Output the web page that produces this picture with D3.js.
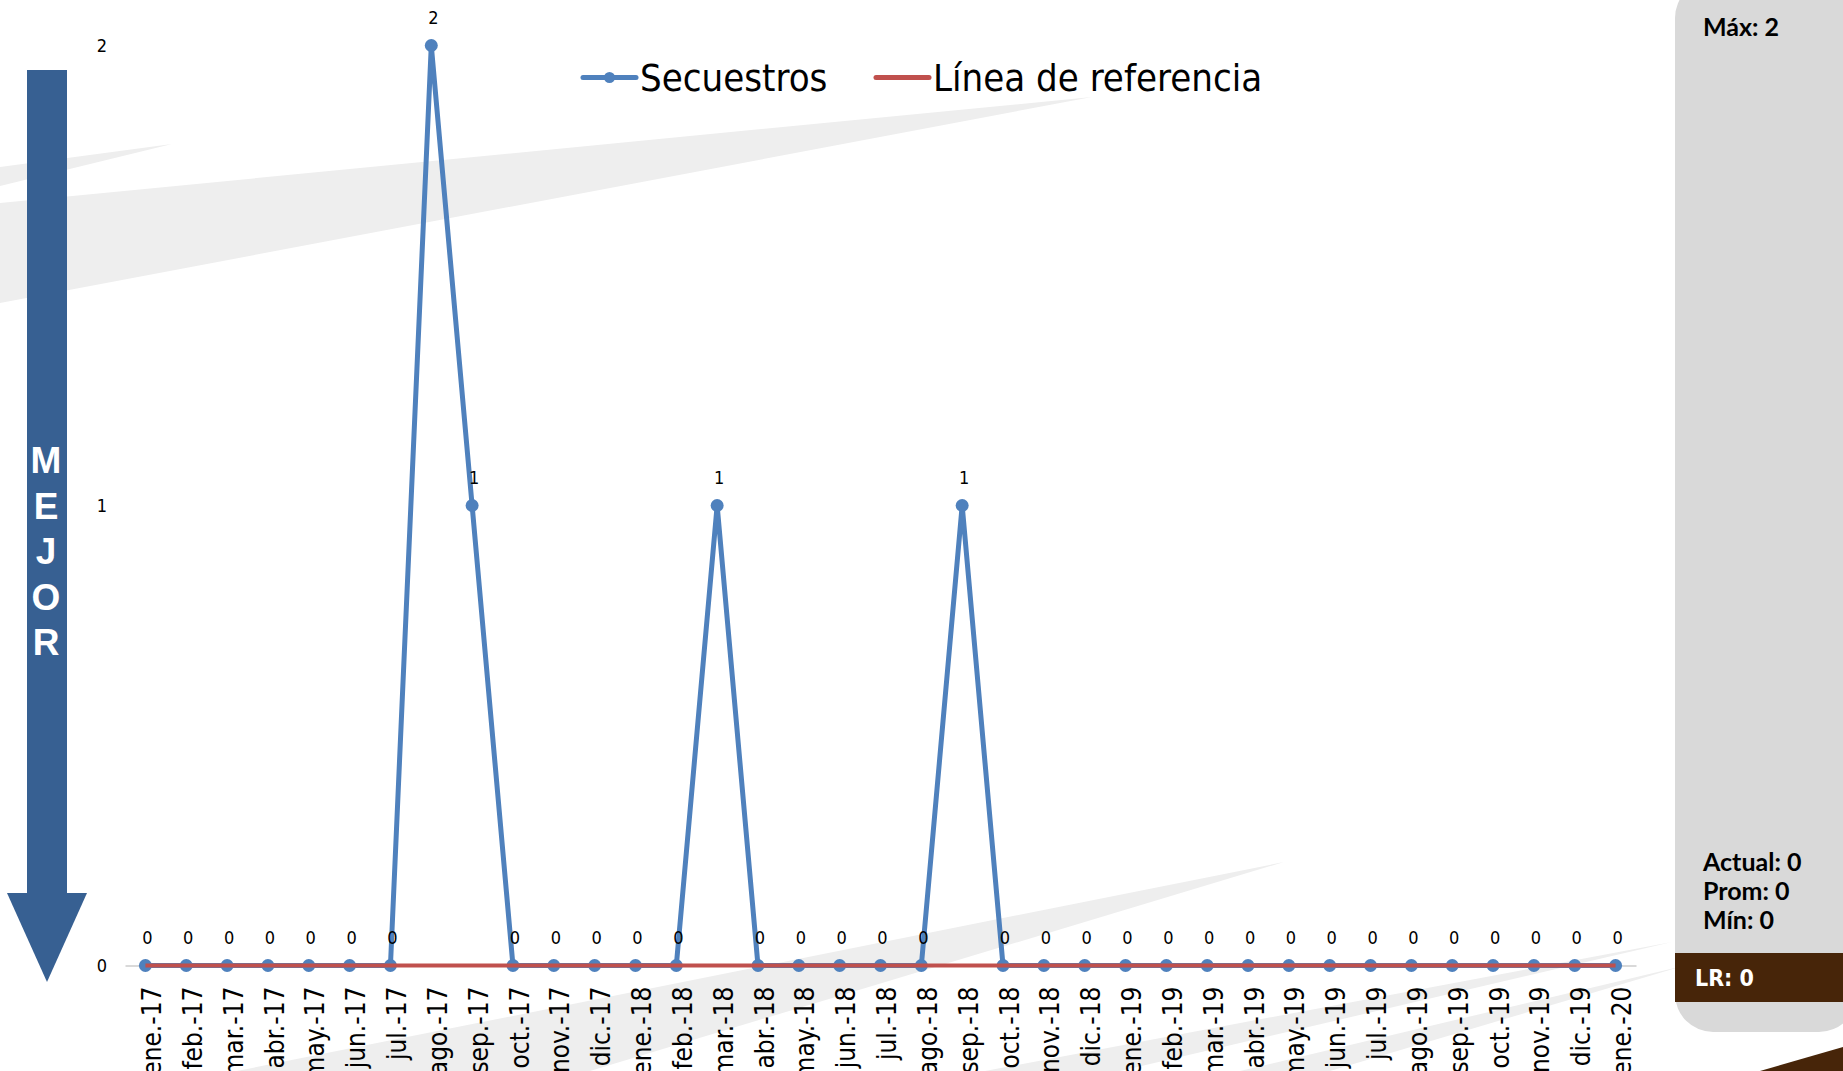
<!doctype html>
<html lang="es">
<head>
<meta charset="utf-8">
<script src="https://d3js.org/d3.v7.min.js"></script>
<title>Secuestros</title>
<style>
  body { margin: 0; background: #fff; }
  svg { display: block; }
  .narrow { font-family: "Liberation Sans Narrow", "DejaVu Sans Condensed", sans-serif; }
  .panel { font-family: Lato, "Noto Sans", sans-serif; font-weight: 700; }
</style>
</head>
<body>
<svg id="chart"></svg>
<script>
// months shown on the x axis
const months = [
  "ene.-17","feb.-17","mar.-17","abr.-17","may.-17","jun.-17","jul.-17","ago.-17","sep.-17","oct.-17","nov.-17","dic.-17",
  "ene.-18","feb.-18","mar.-18","abr.-18","may.-18","jun.-18","jul.-18","ago.-18","sep.-18","oct.-18","nov.-18","dic.-18",
  "ene.-19","feb.-19","mar.-19","abr.-19","may.-19","jun.-19","jul.-19","ago.-19","sep.-19","oct.-19","nov.-19","dic.-19",
  "ene.-20"
];
// Secuestros per month
const secuestros = [0,0,0,0,0,0,0,2,1,0,0,0, 0,0,1,0,0,0,0,0,1,0,0,0, 0,0,0,0,0,0,0,0,0,0,0,0, 0];
// reference line
const referencia = months.map(() => 0);
const yTicks = [0, 1, 2];
const legendNames = ["Secuestros", "Línea de referencia"];
const statsTop = ["Máx: 2"];
const statsBottom = ["Actual: 0", "Prom: 0", "Mín: 0"];
const lrText = "LR: 0";
const arrowWord = ["M", "E", "J", "O", "R"];

const width = 1843, height = 1071;
const blue = "#4f81bd", red = "#c0504d";

const svg = d3.select("#chart").attr("width", width).attr("height", height);

// background swooshes
const bg = svg.append("g").attr("fill", "#eeeeee");
[
  [[0,203],[1092,97],[0,303]],
  [[0,167],[172,144],[0,186]],
  [[237,1071],[1284,862],[590,1071]],
  [[985,1071],[1672,942],[1120,1071]],
  [[1240,1071],[1683,966],[1330,1071]]
].forEach(p => bg.append("polygon").attr("points", p.map(d => d.join(",")).join(" ")));

// right panel
svg.append("rect").attr("x", 1675).attr("y", -20).attr("width", 182).attr("height", 1052)
  .attr("rx", 38).attr("fill", "#d9d9d9");
svg.append("rect").attr("x", 1675).attr("y", 953).attr("width", 170).attr("height", 49).attr("fill", "#472509");
svg.append("polygon").attr("points", "1760,1071 1843,1047 1843,1071").attr("fill", "#472509");

const panel = svg.append("g").attr("class", "panel").attr("font-size", 25);
panel.selectAll("text.top").data(statsTop).join("text").attr("class", "top")
  .attr("x", 1703).attr("y", (d, i) => 27 + i * 29).attr("dy", "0.36em").text(d => d);
panel.selectAll("text.bot").data(statsBottom).join("text").attr("class", "bot")
  .attr("x", 1703).attr("y", (d, i) => 862 + i * 29).attr("dy", "0.36em").text(d => d);
svg.append("text").attr("class", "narrow").attr("font-weight", 700).attr("font-size", 23)
  .attr("fill", "#fff").attr("x", 1695).attr("y", 978).attr("dy", "0.36em").text(lrText);

// arrow "MEJOR"
svg.append("rect").attr("x", 27).attr("y", 70).attr("width", 40).attr("height", 825).attr("fill", "#376092");
svg.append("polygon").attr("points", "7,893 87,893 47,982").attr("fill", "#376092");
svg.append("g").selectAll("text").data(arrowWord).join("text")
  .attr("x", 46).attr("y", (d, i) => 460 + i * 45.5).attr("dy", "0.36em")
  .attr("text-anchor", "middle").attr("fill", "#fff")
  .attr("font-family", "Liberation Sans, Arial, sans-serif").attr("font-weight", 700).attr("font-size", 37)
  .text(d => d);

// scales
const x = d3.scalePoint().domain(months).range([125, 1636]).padding(0.5);
const y = d3.scaleLinear().domain([0, 2]).range([965.5, 45.5]);

// x axis
const xAxis = svg.append("g").attr("class", "narrow")
  .attr("transform", `translate(0,${y(0)})`)
  .call(d3.axisBottom(x).tickSize(0).tickSizeOuter(0));
xAxis.select(".domain").attr("stroke", "#d9d9d9").attr("stroke-width", 2);
xAxis.selectAll("text")
  .attr("font-size", 26).attr("fill", "#000")
  .attr("transform", "rotate(-90)")
  .attr("text-anchor", "end")
  .attr("x", -21).attr("y", 0).attr("dy", "0.58em");

// y axis
const yAxis = svg.append("g").attr("class", "narrow")
  .attr("transform", "translate(109,0)")
  .call(d3.axisLeft(y).tickValues(yTicks).tickFormat(d3.format("d")).tickSize(0).tickPadding(2));
yAxis.select(".domain").remove();
yAxis.selectAll("text").attr("font-size", 18).attr("fill", "#000");

// Secuestros line
const line = d3.line().x((d, i) => x(months[i])).y(d => y(d));
svg.append("path").datum(secuestros).attr("d", line)
  .attr("fill", "none").attr("stroke", blue).attr("stroke-width", 5).attr("stroke-linejoin", "round");
svg.append("g").selectAll("circle").data(secuestros).join("circle")
  .attr("cx", (d, i) => x(months[i])).attr("cy", d => y(d)).attr("r", 6.5).attr("fill", blue);

// reference line
svg.append("path").datum(referencia).attr("d", line)
  .attr("fill", "none").attr("stroke", red).attr("stroke-width", 4);

// data labels
svg.append("g").attr("class", "narrow").selectAll("text").data(secuestros).join("text")
  .attr("x", (d, i) => x(months[i]) + 2).attr("y", d => y(d) - 28).attr("dy", "0.36em")
  .attr("text-anchor", "middle").attr("font-size", 18).attr("fill", "#000")
  .text(d => d);

// legend
const legend = svg.append("g").attr("class", "narrow");
const legendX = [583, 876];
const legendColors = [blue, red];
legendNames.forEach((name, i) => {
  legend.append("line").attr("x1", legendX[i]).attr("x2", legendX[i] + 53)
    .attr("y1", 77.5).attr("y2", 77.5).attr("stroke", legendColors[i]).attr("stroke-width", 5)
    .attr("stroke-linecap", "round");
  if (i === 0) legend.append("circle").attr("cx", legendX[i] + 26.5).attr("cy", 77.5).attr("r", 5.5).attr("fill", blue);
  legend.append("text").attr("x", legendX[i] + 57).attr("y", 77.5).attr("dy", "0.35em")
    .attr("font-size", 38).attr("fill", "#000").text(name);
});
</script>
</body>
</html>
